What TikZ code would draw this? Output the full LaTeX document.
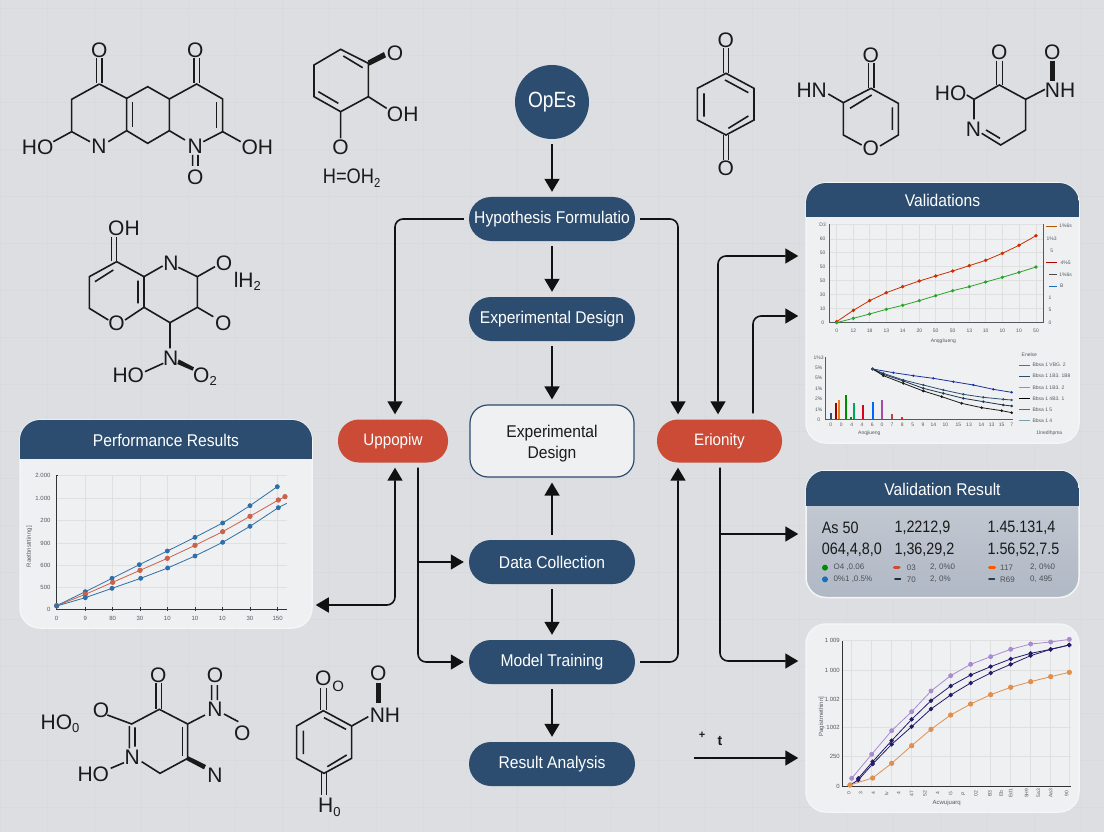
\documentclass[tikz,border=0pt]{standalone}
\usepackage{fontspec}
\setmainfont{Liberation Sans}
\newfontfamily\cond[FakeStretch=0.92]{Liberation Sans}
\newfontfamily\condb[FakeStretch=0.87]{Liberation Sans}
\usetikzlibrary{arrows.meta,calc}
\definecolor{bgc}{HTML}{DCDEE1}
\definecolor{gridc}{HTML}{D8DADD}
\definecolor{navy}{HTML}{2C4D70}
\definecolor{redc}{HTML}{CB4B36}
\definecolor{panelc}{HTML}{EFF0F1}
\definecolor{linkc}{HTML}{111111}
\definecolor{inkc}{HTML}{1A1A1A}
\definecolor{tickc}{HTML}{555A60}
\definecolor{bodytop}{HTML}{C9CED6}
\definecolor{bodybot}{HTML}{B0B8C5}
\newcommand{\subs}[1]{\raisebox{-0.3ex}{\fontsize{13}{13}\selectfont #1}}
\tikzset{
  zoomat/.style 2 args={shift={(#1,#2)},x=0.33333pt,y=-0.33333pt},
  pill/.style={rounded corners=22pt,minimum width=166pt,minimum height=44pt,inner sep=0pt,fill=navy,text=white,font=\cond\fontsize{17}{20}\selectfont},
  redpill/.style={rounded corners=21pt,minimum height=43pt,inner sep=0pt,fill=redc,text=white,font=\cond\fontsize{16.5}{18}\selectfont},
  conn/.style={draw=linkc,line width=1.6pt,-{Triangle[length=13pt,width=15pt]},rounded corners=8pt},
  conn2/.style={draw=linkc,line width=1.6pt,{Triangle[length=13pt,width=15pt]}-{Triangle[length=13pt,width=15pt]},rounded corners=8pt},
  gap/.style={shorten >=5pt,shorten <=5pt},
  panel/.style={rounded corners=20pt,inner sep=0pt,fill=panelc,draw=white!70!bgc,line width=1.5pt},
  ptitle/.style={text=white,font=\cond\fontsize{17}{20}\selectfont,inner sep=0pt},
  bond/.style={draw=inkc,line width=1.6pt},
  atom/.style={text=inkc,font=\fontsize{21}{24}\selectfont,inner sep=0pt},
  axisl/.style={draw=#1,line width=.7pt},
  gridl/.style={draw=black!12,line width=.35pt},
  series/.style={draw=#1,line width=.8pt,mark options={fill=#1,draw=#1,solid}},
  tkA/.style={text=tickc,font=\fontsize{5}{6}\selectfont,inner sep=0pt},
  tkC/.style={text=tickc,font=\fontsize{6}{7}\selectfont,inner sep=0pt},
  vres/.style={text=inkc,font=\condb\fontsize{16.5}{19}\selectfont,inner sep=0pt,anchor=west},
  vsm/.style={text=tickc!90!black,font=\fontsize{8}{9}\selectfont,inner sep=0pt,anchor=west},
}
\begin{document}
\begin{tikzpicture}[x=1pt,y=-1pt]
\useasboundingbox (0,0) rectangle (1104,832);
\fill[bgc] (0,0) rectangle (1104,832);
\foreach \g in {0,47,...,1104} \draw[gridc,line width=.5pt] (\g,0) -- (\g,832);
\foreach \g in {8,55,...,832} \draw[gridc,line width=.5pt] (0,\g) -- (1104,\g);

%% molecules top left, coordinates as in a 3x view
\begin{scope}[zoomat={0}{20}]
 % molecule 1
 \draw[bond] (290,115)--(290,190) (306,115)--(306,190);
 \draw[bond] (298,192)--(215,238)--(215,335)--(270,365) (160,365)--(215,335);
 \draw[bond] (325,365)--(380,332)--(380,235)--(298,192);
 \draw[bond] (398,245)--(398,322);
 \draw[bond] (380,235)--(443,200)--(508,237)--(590,192)--(668,237)--(668,335)--(610,365);
 \draw[bond] (582,115)--(582,190) (598,115)--(598,190) (650,247)--(650,325);
 \draw[bond] (508,237)--(508,332)--(555,360) (380,332)--(443,370)--(508,332);
 \draw[bond] (668,335)--(722,365) (578,405)--(578,438) (594,405)--(594,438);
 \node[atom] (a1) at (298,90) {O};
 \node[atom] (a2) at (586,90) {O};
 \node[atom] (a3) at (113,382) {HO};
 \node[atom] (a4) at (297,380) {N};
 \node[atom] (a5) at (586,380) {N};
 \node[atom] (a6) at (772,382) {OH};
 \node[atom] (a7) at (586,473) {O};
 % molecule 2
 \fill[inkc] (1103,122)--(1108,137)--(1158,112)--(1152,96)--cycle;
 \draw[bond] (1105,130)--(1022,88)--(942,135)--(942,230)--(1022,275)--(1105,230)--cycle;
 \draw[bond] (1030,108)--(1088,143) (955,215)--(1015,250);
 \draw[bond] (1105,230)--(1160,265) (1022,275)--(1022,355);
 \node[atom] (b1) at (1185,100) {O};
 \node[atom] (b2) at (1208,283) {OH};
 \node[atom] (b3) at (1022,382) {O};
 \node[atom,font=\condb\fontsize{21}{24}\selectfont] (b4) at (1055,475) {H=OH\subs{2}};
 % molecule 3
 \draw[bond] (334,650)--(334,722) (350,650)--(350,722);
 \draw[bond] (350,725)--(268,770)--(268,865)--(325,900) (375,900)--(432,862)--(432,770)--(350,725);
 \draw[bond] (285,785)--(340,750) (414,782)--(414,850);
 \draw[bond] (432,770)--(488,738) (535,742)--(592,770)--(645,740);
 \draw[bond] (592,770)--(592,862)--(510,908)--(432,862) (592,862)--(640,890);
 \draw[bond] (510,908)--(510,985) (490,1030)--(435,1055);
 \fill[inkc] (536,1018)--(532,1032)--(578,1052)--(582,1042)--cycle;
 \node[atom] (c1) at (372,625) {OH};
 \node[atom] (c2) at (513,730) {N};
 \node[atom] (c3) at (672,730) {O};
 \node[atom] (c4) at (742,785) {lH\subs{2}};
 \node[atom] (c5) at (350,910) {O};
 \node[atom] (c6) at (670,910) {O};
 \node[atom] (c7) at (512,1015) {N};
 \node[atom] (c8) at (385,1065) {HO};
 \node[atom] (c9) at (615,1070) {O\subs{2}};
\end{scope}

%% molecules top right
\begin{scope}[zoomat={680}{20}]
 \draw[bond] (130,85)--(130,158) (146,85)--(146,158);
 \draw[bond] (138,160)--(222,205)--(222,300)--(138,345)--(52,300)--(52,205)--cycle;
 \draw[bond] (135,180)--(205,218) (205,288)--(145,325) (72,220)--(72,290);
 \draw[bond] (130,345)--(130,420) (146,345)--(146,420);
 \node[atom] (d1) at (137,62) {O};
 \node[atom] (d2) at (137,445) {O};
 \draw[bond] (565,130)--(565,205) (582,130)--(582,205);
 \draw[bond] (545,375)--(490,345)--(490,248)--(573,205)--(655,250)--(655,345)--(600,378);
 \draw[bond] (510,265)--(575,225) (637,262)--(637,330) (445,222)--(490,248);
 \node[atom] (e1) at (572,105) {O};
 \node[atom] (e2) at (572,385) {O};
 \node[atom] (e3) at (395,212) {HN};
 \draw[bond] (950,122)--(950,195) (967,122)--(967,195);
 \draw[bond] (860,225)--(882,238)--(958,195)--(1037,238)--(1037,330)--(962,375)--(905,340);
 \draw[bond] (960,355)--(918,330) (882,238)--(882,298) (1037,238)--(1095,208);
 \draw[inkc,line width=5pt] (1117,122)--(1117,182);
 \node[atom] (f1) at (958,98) {O};
 \node[atom] (f2) at (812,220) {HO};
 \node[atom] (f3) at (880,328) {N};
 \node[atom] (f4) at (1140,212) {NH};
 \node[atom] (f5) at (1117,98) {O};
\end{scope}

%% molecules bottom left
\begin{scope}[zoomat={20}{650}]
 \draw[bond] (262,195)--(335,222)--(418,178)--(503,222)--(503,325)--(420,370)--(365,335);
 \draw[bond] (328,228)--(328,295) (345,232)--(345,290) (272,355)--(312,338);
 \draw[bond] (408,100)--(408,178) (425,100)--(425,178);
 \draw[bond] (503,222)--(555,195) (575,105)--(575,150) (592,105)--(592,150) (612,192)--(655,215);
 \draw[bond] (488,232)--(488,318);
 \fill[inkc] (503,318)--(499,330)--(552,358)--(558,345)--cycle;
 \node[atom] (g1) at (120,222) {HO\subs{0}};
 \node[atom] (g2) at (243,180) {O};
 \node[atom] (g3) at (337,322) {N};
 \node[atom] (g4) at (220,372) {HO};
 \node[atom] (g5) at (415,75) {O};
 \node[atom] (g6) at (585,75) {O};
 \node[atom] (g7) at (585,178) {N};
 \node[atom] (g8) at (667,250) {O};
 \node[atom] (g9) at (585,377) {N};
 \draw[bond] (902,115)--(902,180) (919,115)--(919,180);
 \draw[bond] (910,182)--(995,228)--(995,325)--(912,370)--(830,325)--(830,228)--cycle;
 \draw[bond] (912,203)--(978,238) (850,242)--(850,312) (922,350)--(980,315) (995,228)--(1045,200);
 \draw[bond] (905,370)--(905,435) (920,370)--(920,435);
 \draw[inkc,line width=5pt] (1077,100)--(1077,158);
 \node[atom] (h1) at (910,85) {O};
 \node[atom,font=\fontsize{15}{15}\selectfont] (h2) at (955,108) {O};
 \node[atom] (h3) at (1095,195) {NH};
 \node[atom] (h4) at (1075,70) {O};
 \node[atom] (h5) at (928,472) {H\subs{0}};
\end{scope}

%% panels
\node[panel,minimum width=273pt,minimum height=260pt] (val) at (942.5,313) {};
\begin{scope}\clip[rounded corners=20pt] (806,183) rectangle (1079,443);\fill[navy] (806,183) rectangle (1079,217);\end{scope}
\node[ptitle] (valt) at (942.5,200) {Validations};

\node[panel,minimum width=273pt,minimum height=127pt,top color=bodytop,bottom color=bodybot] (vres) at (942.5,534) {};
\begin{scope}\clip[rounded corners=20pt] (806,470.5) rectangle (1079,597.5);\fill[navy] (806,470.5) rectangle (1079,506);\end{scope}
\node[ptitle] (vrest) at (942.5,489) {Validation Result};

\node[panel,minimum width=273pt,minimum height=188pt] (cur) at (942.5,718) {};

\node[panel,minimum width=292pt,minimum height=208pt] (perf) at (166,524) {};
\begin{scope}\clip[rounded corners=20pt] (20,420) rectangle (312,628);\fill[navy] (20,420) rectangle (312,459);\end{scope}
\node[ptitle] (perft) at (166,440) {Performance Results};

%% Validations charts
\begin{scope}[zoomat={800}{180}]
 \foreach \v in {110,160,209,259,308,358,407,458,508,557,607,657,708} \draw[gridl] (\v,133)--(\v,428);
 \foreach \v in {133,177,218,260,302,343,385} \draw[gridl] (88,\v)--(730,\v);
 \draw[axisl=tickc] (88,133)--(88,428)--(730,428)--(730,133);
 \draw[series={red!55!orange!80!black}] plot[mark=*,mark size=1.3pt] coordinates {(110,425)(160,391)(209,362)(259,338)(308,320)(358,303)(407,288)(458,273)(508,257)(557,241)(607,220)(657,196)(708,167)};
 \draw[series={green!60!gray!80!black}] plot[mark=*,mark size=1.2pt] coordinates {(110,428)(160,415)(209,402)(259,388)(308,376)(358,362)(407,347)(458,332)(508,320)(557,306)(607,292)(657,277)(708,261)};
 \foreach \yy/\l [count=\i] in {133/D3,177/60,218/50,260/50,302/50,343/30,385/10,428/0} \node[tkA] (vy\i) at (68,\yy) {\l};
 \foreach \xx/\l [count=\i] in {110/0,160/12,209/18,259/13,308/14,358/20,407/50,458/50,508/13,557/10,607/10,657/10,708/50} \node[tkA] (vx\i) at (\xx,451) {\l};
 \node[tkA] (vxl) at (430,483) {Anqgliueng};
 \draw[orange!70!black,line width=.7pt] (738,140)--(772,140);
 \draw[red!70!black,line width=.7pt] (738,248)--(772,248);
 \draw[black!70,line width=.7pt] (748,283)--(772,283);
 \draw[cyan!50!blue,line width=.9pt] (748,318)--(772,318);
 \foreach \xx/\yy/\l [count=\i] in {797/138/1\%6s,755/176/1\%3,755/212/5/6,797/248/4\%5,797/283/1\%6s,785/318/B,750/353/1,750/390/5,750/428/0} \node[tkA] (vl\i) at (\xx,\yy) {\l};
 % lower chart
 \draw[axisl=tickc] (75,532)--(75,718)--(640,718);
 \foreach \xx/\h/\c [count=\i] in {92/698/navy,108/670/red!60!black,116/660/orange!80!gray,138/645/green!55!black,154/712/green!55!black,163/670/teal!70!green,190/675/red!50!purple,220/665/blue!60!cyan,247/660/violet!70,276/703/red!45!gray,307/710/red!70!orange} \draw[\c,line width=2.2pt] (\xx,718)--(\xx,\h);
 \draw[series={blue!35!navy}] plot[mark=*,mark size=.7pt] coordinates {(218,567)(280,578)(340,587)(400,595)(460,605)(520,615)(580,628)(635,637)};
 \draw[series={navy}] plot[mark=*,mark size=.7pt] coordinates {(218,567)(250,580)(310,600)(370,615)(430,630)(490,643)(550,652)(610,658)(635,660)};
 \draw[series={navy!70!black}] plot[mark=*,mark size=.8pt] coordinates {(218,567)(250,583)(310,603)(370,625)(430,640)(490,655)(550,665)(610,675)(635,678)};
 \draw[series={black!90}] plot[mark=*,mark size=.9pt] coordinates {(218,567)(250,587)(310,610)(370,633)(425,650)(485,670)(545,683)(605,692)(635,698)};
 \fill[navy] (218,567) circle[radius=5];
 \foreach \yy/\l [count=\i] in {533/1\%3,563/5\%,593/5\%,625/1\%,657/2\%,688/1\%,718/0} \node[tkA] (wy\i) at (56,\yy) {\l};
 \foreach \xx/\l [count=\i] in {92/0,124/0,155/4,186/4,217/6,246/0,276/7,307/8,338/5,369/9,400/14,436/10,475/15,507/13,544/14,575/13,605/15,635/7} \node[tkA] (wx\i) at (\xx,733) {\l};
 \node[tkA] (wl1) at (208,760) {Anqjiueng};
 \node[tkA] (wl2) at (748,760) {1lnedlhpma};
 \node[tkA] (wl3) at (688,524) {Enelse};
 \foreach \yy/\c/\l [count=\i] in {555/red!40!gray/Bbsa 1 VBG. 2/03,588/navy/Bbsa 1 1B3. 1B8,622/cyan!40!gray/Bbsa 1 1B3. 2/93,655/black/Bbsa 1 4B3. 1/B3,688/cyan!60!blue/Bbsa 1 5/B6. 2/B3,722/cyan!35!gray/Bbsa 1 4/B5. 3/B3} {
   \draw[\c,line width=.8pt] (658,\yy)--(690,\yy);
   \node[tkA,anchor=west] (wk\i) at (697,\yy) {\l};
 }
\end{scope}

%% Validation Result content
\begin{scope}[zoomat={800}{465}]
 \node[vres] (r1) at (65,188) {As 50};
 \node[vres] (r2) at (283,188) {1,2212,9};
 \node[vres] (r3) at (562,188) {1.45.131,4};
 \node[vres] (r4) at (65,255) {064,4,8,0};
 \node[vres] (r5) at (283,255) {1,36,29,2};
 \node[vres] (r6) at (562,255) {1.56,52,7.5};
 \fill[green!55!black] (75,308) circle[radius=9];
 \fill[cyan!50!blue] (75,343) circle[radius=9];
 \draw[redc,line width=3pt,line cap=round] (283,308)--(297,308);
 \draw[navy!60!black,line width=2pt,line cap=round] (285,343)--(301,343);
 \draw[orange!70!red,line width=3pt,line cap=round] (568,308)--(584,308);
 \draw[navy!80!black,line width=2pt,line cap=round] (567,343)--(583,343);
 \node[vsm] (s1) at (100,308) {O4 ,0.06};
 \node[vsm] (s2) at (100,343) {0\%1 ,0.5\%};
 \node[vsm] (s3) at (320,308) {03};
 \node[vsm] (s4) at (320,343) {70};
 \node[vsm] (s5) at (390,308) {2, 0\%0};
 \node[vsm] (s6) at (390,343) {2, 0\%};
 \node[vsm] (s7) at (600,308) {117};
 \node[vsm] (s8) at (600,343) {R69};
 \node[vsm] (s9) at (690,308) {2, 0\%0};
 \node[vsm] (s10) at (690,343) {0, 495};
\end{scope}

%% Curves chart
\begin{scope}[zoomat={800}{620}]
 \foreach \v in {155,215,275,335,393,452,512,572,632,692,752,808} \draw[gridl] (\v,62)--(\v,498);
 \foreach \v in {62,150,237,323,410} \draw[gridl] (128,\v)--(812,\v);
 \draw[axisl=black!80] (128,62)--(128,498)--(812,498);
 \definecolor{purp}{HTML}{A98AD0}\definecolor{deep}{HTML}{231A6B}\definecolor{orng}{HTML}{E0904E}
 \draw[series=purp] plot[mark=*,mark size=2pt] coordinates {(155,475)(215,403)(275,332)(335,275)(393,213)(452,167)(512,133)(572,110)(632,88)(692,72)(752,66)(808,58)};
 \draw[series=deep] plot[mark=*,mark size=1.8pt] coordinates {(175,475)(218,425)(275,362)(335,298)(393,242)(452,198)(512,165)(572,140)(632,117)(692,100)(752,88)(808,75)};
 \draw[series=deep] plot[mark=*,mark size=1.8pt] coordinates {(150,495)(175,480)(218,432)(275,373)(335,320)(393,267)(452,225)(512,189)(572,159)(632,133)(692,107)(752,88)(808,75)};
 \draw[series=orng] plot[mark=*,mark size=2.2pt] coordinates {(150,495)(218,474)(275,430)(335,377)(393,328)(452,285)(512,252)(572,224)(632,202)(692,185)(752,170)(808,157)};
 \foreach \yy/\l [count=\i] in {62/1 009,150/1 000,237/1.002,323/1002,410/250,498/0} \node[tkC,anchor=east] (cy\i) at (120,\yy) {\l};
 \node[tkC,rotate=90] (cyl) at (65,290) {Pagistmethinn]};
 \foreach \xx/\l [count=\i] in {147/0,182/3,220/4,260/lv,296/4,335/47,375/52,413/4,452/G,490/P,528/02,570/B3,603/Eb,632/Ed1,680/5H9,715/5a3,752/Aa3,800/90} \node[tkA,rotate=90] (cx\i) at (\xx,520) {\l};
 \node[tkC] (cxl) at (440,550) {Acwujuarq};
\end{scope}

%% Performance chart
\begin{scope}[zoomat={10}{415}]
 \foreach \v in {226,308,390,472,555,637,720,803} \draw[gridl] (\v,182)--(\v,582);
 \foreach \v in {182,250,316,384,451,517} \draw[gridl] (140,\v)--(832,\v);
 \draw[axisl=black!80] (145,182)--(140,182)--(140,582)--(832,582);
 \foreach \v in {226,308,390,472,555,637,720,803} \draw[axisl=black!80] (\v,577)--(\v,587);
 \definecolor{pblue}{HTML}{2D6FA8}\definecolor{pred}{HTML}{C9624A}
 \draw[series=pblue] plot[mark=*,mark size=2pt] coordinates {(140,572)(226,530)(306,490)(388,449)(472,408)(555,367)(638,324)(720,272)(802,215)};
 \draw[series=pred] plot[mark=*,mark size=2.2pt] coordinates {(140,572)(226,538)(308,502)(390,466)(472,430)(555,391)(638,350)(720,304)(805,255)(825,245)};
 \draw[series=pblue] plot[mark=*,mark size=2pt] coordinates {(140,573)(226,548)(306,520)(392,490)(473,459)(555,423)(638,382)(720,334)(805,278)};
 \draw[series=pblue] (805,278)--(830,265);
 \foreach \yy/\l [count=\i] in {182/2.000,250/1.000,316/200,384/900,451/600,517/500,582/0} \node[tkC,anchor=east] (py\i) at (122,\yy) {\l};
 \node[tkC,rotate=90] (pyl) at (58,395) {Raetbnstrtinng]};
 \foreach \xx/\l [count=\i] in {140/0,226/9,308/80,390/30,472/10,555/10,637/10,720/30,803/150} \node[tkC] (px\i) at (\xx,610) {\l};
\end{scope}

%% process nodes
\node[circle,fill=navy,text=white,minimum size=74pt,inner sep=0pt,font=\condb\fontsize{22}{24}\selectfont] (opes) at (552,102) {OpEs};
\node[pill] (hyp) at (552,219) {Hypothesis Formulatio};
\node[pill] (exp) at (552,319) {Experimental Design};
\node[rounded corners=18pt,minimum width=164pt,minimum height=72pt,inner sep=0pt,fill=panelc,draw=navy,line width=1.2pt] (box) at (552,441) {};
\node[align=center,inner sep=0pt,text=inkc,font=\cond\fontsize{17}{21}\selectfont] (boxt) at (552,444) {Experimental\\Design};
\node[pill] (data) at (552,562) {Data Collection};
\node[pill] (model) at (552,662) {Model Training};
\node[pill] (res) at (552,764) {Result Analysis};
\node[redpill,minimum width=110pt] (up) at (393,441) {Uppopiw};
\node[redpill,minimum width=125pt] (er) at (719.5,441) {Erionity};

%% connectors
\draw[conn,gap] (opes) -- (hyp);
\draw[conn,gap] (hyp) -- (exp);
\draw[conn,gap] (exp) -- (box);
\draw[conn,gap] (data) -- (box);
\draw[conn,gap] (data) -- (model);
\draw[conn,gap] (model) -- (res);
\draw[conn,gap] (hyp.west) -| ([xshift=2pt]up.north);
\draw[conn,gap] (hyp.east) -| ([xshift=-41.5pt]er.north);
\draw[conn2,shorten <=5pt,shorten >=7pt] ([xshift=-1.5pt]er.north) |- ([yshift=57pt]val.west);
\draw[conn,shorten >=7pt] ([xshift=33.5pt,yshift=6pt]er.north) |- ([yshift=-3pt]val.west);
\draw[conn2,shorten >=3pt,shorten <=5pt] ([xshift=2pt]up.south) |- ([yshift=-81pt]perf.east);
\draw[conn,shorten <=5pt,shorten >=5pt] ([xshift=25pt]up.south) |- (model.west);
\coordinate (upbranch) at ($(up.south)+(25,0)$);
\draw[conn,shorten >=5pt] (upbranch |- data.west) -- (data.west);
\draw[conn,gap] (model.east) -| ([xshift=-41.5pt]er.south);
\draw[conn,shorten <=5pt,shorten >=7pt] ([xshift=0.5pt]er.south) |- ([yshift=57pt]cur.west);
\coordinate (erbranch) at ($(er.south)+(0.5,0)$);
\draw[conn,shorten >=7pt] (erbranch |- vres.west) -- (vres.west);
\coordinate (free) at (694,758);
\draw[conn,shorten >=7pt] (free) -- (free -| cur.west);
\node[inner sep=0pt,text=inkc,font=\bfseries\fontsize{11}{12}\selectfont] (plus) at (702,735) {+};
\node[inner sep=0pt,text=inkc,font=\bfseries\fontsize{14}{15}\selectfont] (dag) at (720,741) {t};
\end{tikzpicture}
\end{document}
